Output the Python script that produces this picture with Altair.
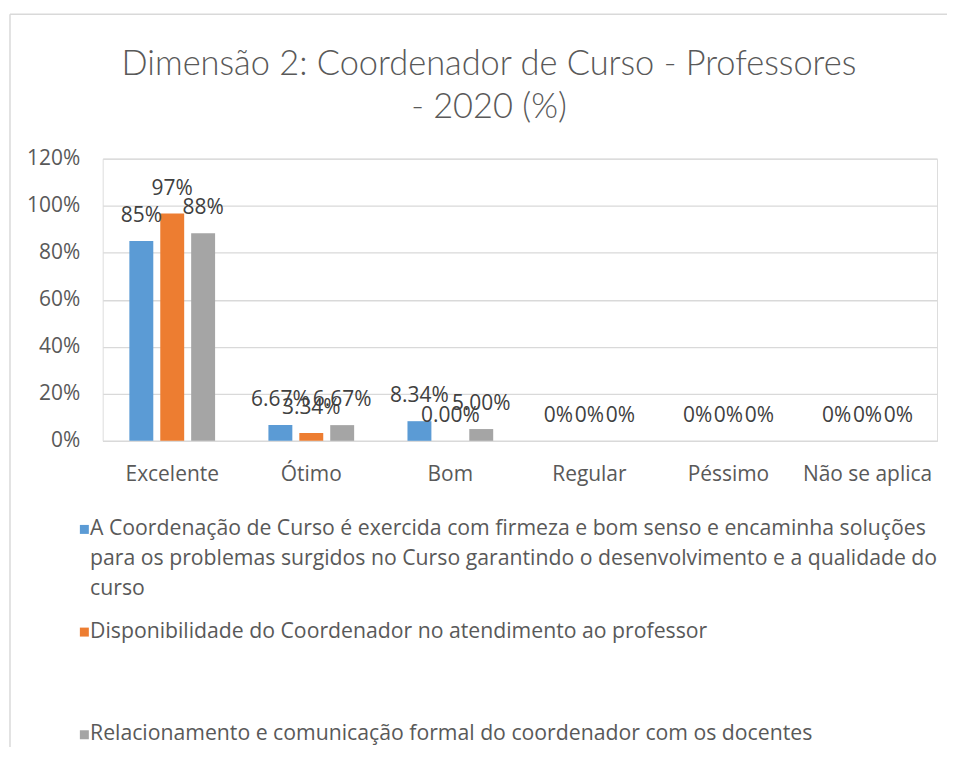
import altair as alt
import pandas as pd

categories = ["Excelente", "Ótimo", "Bom", "Regular", "Péssimo", "Não se aplica"]
series = [
    "A Coordenação de Curso é exercida com firmeza e bom senso e encaminha soluções para os problemas surgidos no Curso garantindo o desenvolvimento e a qualidade do curso",
    "Disponibilidade do Coordenador no atendimento ao professor",
    "Relacionamento e comunicação formal do coordenador com os docentes",
]
series1_lines = [
    "A Coordenação de Curso é exercida com firmeza e bom senso e encaminha soluções",
    "para os problemas surgidos no Curso garantindo o desenvolvimento e a qualidade do",
    "curso",
]
values_s1 = [85.0, 6.67, 8.34, 0.0, 0.0, 0.0]
values_s2 = [96.66, 3.34, 0.00, 0.0, 0.0, 0.0]
values_s3 = [88.33, 6.67, 5.00, 0.0, 0.0, 0.0]
labels_s1 = ["85%", "6.67%", "8.34%", "0%", "0%", "0%"]
labels_s2 = ["97%", "3.34%", "0.00%", "0%", "0%", "0%"]
labels_s3 = ["88%", "6.67%", "5.00%", "0%", "0%", "0%"]
colors = ["#5B9BD5", "#ED7D31", "#A5A5A5"]
y_ticks = [0, 20, 40, 60, 80, 100, 120]

rows = []
for s, vals, labs in zip(series, [values_s1, values_s2, values_s3], [labels_s1, labels_s2, labels_s3]):
    for c, v, l in zip(categories, vals, labs):
        rows.append({"cat": c, "series": s, "value": v, "label": l})
df = pd.DataFrame(rows)

FONT = "Open Sans"
TFONT = "Lato"
TXT = "#595959"
GRID = "#D9D9D9"

lines_js = "[" + ",".join("'" + ln + "'" for ln in series1_lines) + "]"
label_expr = f"datum.label == '{series[0]}' ? {lines_js} : datum.label"

x_enc = alt.X(
    "cat:N", sort=categories, title=None,
    scale=alt.Scale(paddingInner=0.3835, paddingOuter=0.19175),
    axis=alt.Axis(labelAngle=0, labelFontSize=21, labelColor=TXT, labelFont=FONT,
                  ticks=False, domainColor=GRID, domainWidth=1.3, labelPadding=23, grid=False),
)
xo_enc = alt.XOffset("series:N", sort=series,
                     scale=alt.Scale(paddingInner=0.2258, paddingOuter=0))
y_enc = alt.Y(
    "value:Q", title=None,
    scale=alt.Scale(domain=[0, 120], nice=False),
    axis=alt.Axis(values=y_ticks, labelExpr="datum.value + '%'", labelFontSize=21,
                  labelColor=TXT, labelFont=FONT, ticks=False, domain=False,
                  gridColor=GRID, gridWidth=1.3, labelPadding=23),
)

# square marker shifted right and down so it sits beside the first text line
symbol_path = "M0.1,1.5H2.1V3.5H0.1Z"

bars = alt.Chart(df).mark_bar().encode(
    x=x_enc,
    xOffset=xo_enc,
    y=y_enc,
    color=alt.Color(
        "series:N", sort=series,
        scale=alt.Scale(domain=series, range=colors),
        legend=alt.Legend(
            title=None, orient="none", legendX=-34, legendY=350, direction="vertical",
            labelExpr=label_expr, labelFontSize=21.3, labelColor=TXT, labelFont=FONT,
            labelLimit=0, labelBaseline="top", symbolType=symbol_path, symbolSize=81,
            symbolStrokeWidth=0, labelOffset=0, rowPadding=11, padding=0,
            gridAlign="all",
        ),
    ),
)

texts = alt.Chart(df).mark_text(
    baseline="middle", align="center", dy=-25, fontSize=21, font=FONT, color="#404040"
).encode(
    x=alt.X("cat:N", sort=categories),
    xOffset=xo_enc,
    y=alt.Y("value:Q"),
    text="label:N",
)

border_data = alt.Data(values=[{"k": 1}])
left_border = alt.Chart(border_data).mark_rule(color=GRID, strokeWidth=1.5).encode(
    x=alt.value(-93), y=alt.value(-145), y2=alt.value(620)
)
top_border = alt.Chart(border_data).mark_rule(color=GRID, strokeWidth=1.5).encode(
    x=alt.value(-93), x2=alt.value(900), y=alt.value(-145)
)

chart = alt.layer(left_border, top_border, bars, texts).properties(
    width=837,
    height=283,
    padding={"left": 95, "top": 150, "right": 10, "bottom": 306},
    autosize=alt.AutoSizeParams(type="none"),
    title=alt.Title(
        ["Dimensão 2: Coordenador de Curso - Professores", "- 2020 (%)"],
        fontSize=34.5, font=TFONT, fontWeight=300, color=TXT, anchor="middle",
        dx=-31, offset=-112, lineHeight=43,
    ),
).configure_view(strokeWidth=0).configure(style={"guide-label": {"lineHeight": 30}})

chart.save("out.html", embed_options={"renderer": "svg", "actions": False})
